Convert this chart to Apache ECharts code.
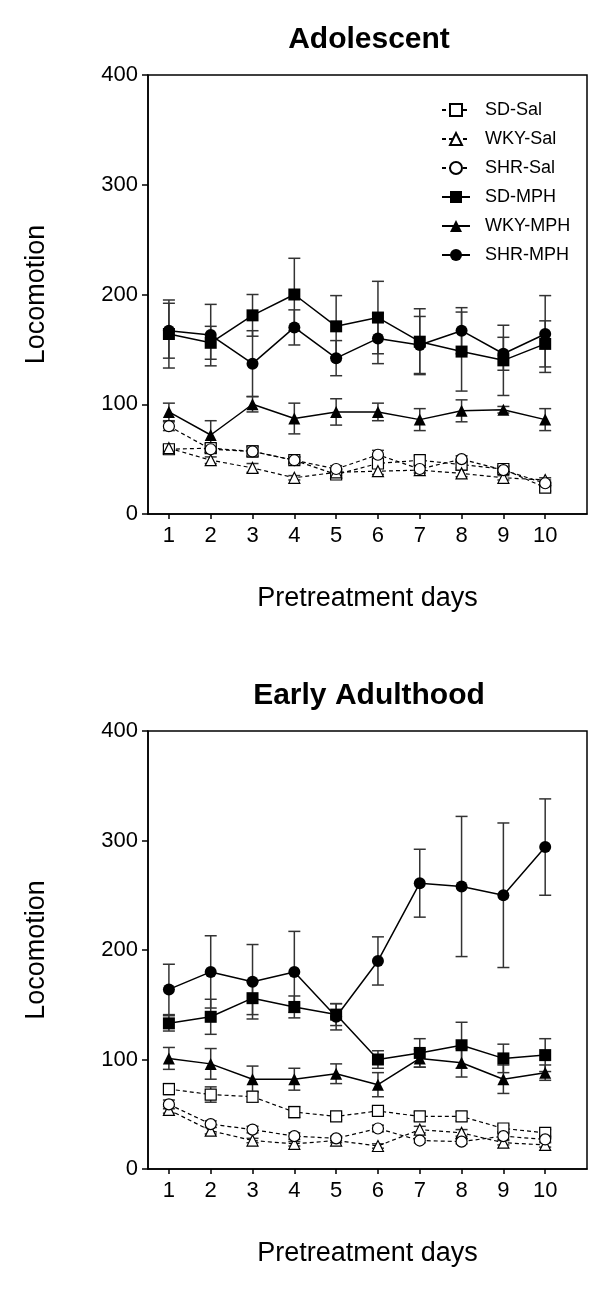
<!DOCTYPE html>
<html>
<head>
<meta charset="utf-8">
<script src="https://cdn.jsdelivr.net/npm/echarts@6/dist/echarts.min.js"></script>
<style>
  html, body { margin: 0; padding: 0; background: #fff; }
  #chart { width: 600px; height: 1291px; }
</style>
</head>
<body>
<div id="chart"></div>
<script>
// x categories (pretreatment day)
const days = [1, 2, 3, 4, 5, 6, 7, 8, 9, 10]
const groupNames = ['SD-Sal', 'WKY-Sal', 'SHR-Sal', 'SD-MPH', 'WKY-MPH', 'SHR-MPH']
const panelTitles = ['Adolescent', 'Early Adulthood']

// Adolescent - means
const adoSDSal = [59, 60, 57, 49, 36, 46, 49, 45, 41, 24]
const adoWKYSal = [60, 49, 42, 33, 38, 39, 40, 37, 33, 31]
const adoSHRSal = [80, 59, 57, 49, 41, 54, 41, 50, 40, 28]
const adoSDMPH = [164, 156, 181, 200, 171, 179, 157, 148, 140, 155]
const adoWKYMPH = [93, 72, 100, 87, 93, 93, 86, 94, 95, 86]
const adoSHRMPH = [167, 163, 137, 170, 142, 160, 154, 167, 146, 164]
// Adolescent - error (SEM)
const adoSDSalErr = [3, 4, 5, 3, 3, 4, 4, 3, 3, 3]
const adoWKYSalErr = [3, 3, 4, 2, 3, 3, 3, 3, 2, 2]
const adoSHRSalErr = [4, 3, 4, 3, 3, 4, 3, 3, 3, 3]
const adoSDMPHErr = [31, 15, 19, 33, 28, 33, 30, 36, 32, 21]
const adoWKYMPHErr = [8, 13, 7, 14, 12, 8, 10, 10, 3, 10]
const adoSHRMPHErr = [25, 28, 30, 16, 16, 23, 26, 21, 15, 35]

// Early adulthood - means
const adultSDSal = [73, 68, 66, 52, 48, 53, 48, 48, 37, 33]
const adultWKYSal = [54, 35, 26, 23, 26, 21, 36, 33, 24, 22]
const adultSHRSal = [59, 41, 36, 30, 28, 37, 26, 25, 30, 27]
const adultSDMPH = [133, 139, 156, 148, 141, 100, 106, 113, 101, 104]
const adultWKYMPH = [101, 96, 82, 82, 87, 77, 101, 97, 82, 88]
const adultSHRMPH = [164, 180, 171, 180, 139, 190, 261, 258, 250, 294]
// Early adulthood - error (SEM)
const adultSDSalErr = [5, 7, 5, 5, 3, 4, 4, 4, 3, 3]
const adultWKYSalErr = [3, 3, 2, 2, 2, 2, 3, 3, 2, 2]
const adultSHRSalErr = [4, 3, 3, 3, 2, 3, 2, 2, 3, 2]
const adultSDMPHErr = [7, 16, 15, 10, 10, 8, 13, 21, 13, 15]
const adultWKYMPHErr = [10, 14, 12, 10, 9, 11, 8, 13, 13, 7]
const adultSHRMPHErr = [23, 33, 34, 37, 12, 22, 31, 64, 66, 44]

const panels = [
  {
    means: [adoSDSal, adoWKYSal, adoSHRSal, adoSDMPH, adoWKYMPH, adoSHRMPH],
    errs: [adoSDSalErr, adoWKYSalErr, adoSHRSalErr, adoSDMPHErr, adoWKYMPHErr, adoSHRMPHErr]
  },
  {
    means: [adultSDSal, adultWKYSal, adultSHRSal, adultSDMPH, adultWKYMPH, adultSHRMPH],
    errs: [adultSDSalErr, adultWKYSalErr, adultSHRSalErr, adultSDMPHErr, adultWKYMPHErr, adultSHRMPHErr]
  }
]

const FONT = 'Liberation Sans, Arial, sans-serif'
const symbolOf = { SD: 'rect', WKY: 'triangle', SHR: 'circle' }

// vertical error bar with caps
function errorRender(params, api) {
  const x = api.value(0)
  const lo = api.coord([x, api.value(1)])
  const hi = api.coord([x, api.value(2)])
  const w = 6
  const style = { stroke: '#333', lineWidth: 1.5 }
  return {
    type: 'group',
    children: [
      { type: 'line', shape: { x1: lo[0], y1: lo[1], x2: hi[0], y2: hi[1] }, style },
      { type: 'line', shape: { x1: hi[0] - w, y1: hi[1], x2: hi[0] + w, y2: hi[1] }, style },
      { type: 'line', shape: { x1: lo[0] - w, y1: lo[1], x2: lo[0] + w, y2: lo[1] }, style }
    ]
  }
}

const series = []
panels.forEach((panel, gi) => {
  groupNames.forEach((name, si) => {
    const mph = name.indexOf('MPH') > -1
    const vals = panel.means[si]
    const errs = panel.errs[si]
    series.push({
      name: name + ' err',
      type: 'custom',
      xAxisIndex: gi,
      yAxisIndex: gi,
      renderItem: errorRender,
      encode: { x: 0, y: [1, 2] },
      z: 1,
      silent: true,
      data: days.map((d, i) => [d, vals[i] - errs[i], vals[i] + errs[i]])
    })
    series.push({
      name: name,
      type: 'line',
      xAxisIndex: gi,
      yAxisIndex: gi,
      symbol: symbolOf[name.split('-')[0]],
      symbolSize: mph ? 12 : 11,
      showAllSymbol: true,
      z: mph ? 4 : 3,
      lineStyle: mph
        ? { color: '#000', width: 1.5, type: 'solid' }
        : { color: '#000', width: 1.2, type: [4, 3] },
      itemStyle: mph
        ? { color: '#000', borderColor: '#000', borderWidth: 0 }
        : { color: '#fff', borderColor: '#000', borderWidth: 1.2 },
      emphasis: { disabled: true },
      data: days.map((d, i) => [d, vals[i]])
    })
  })
})

const grids = [
  { left: 148, right: 13, top: 75, height: 439 },
  { left: 148, right: 13, top: 731, height: 438 }
]

const option = {
  backgroundColor: '#fff',
  animation: false,
  textStyle: { fontFamily: FONT, color: '#000' },
  title: panelTitles.map((t, i) => ({
    text: t,
    left: 364,
    top: i === 0 ? 20 : 676,
    textAlign: 'center',
    textStyle: { fontFamily: FONT, fontSize: 30, fontWeight: 'bold', color: '#000' }
  })),
  legend: {
    data: groupNames,
    orient: 'vertical',
    left: 441,
    top: 101,
    padding: 0,
    itemWidth: 28,
    itemHeight: 15,
    itemGap: 11,
    selectedMode: false,
    textStyle: { fontFamily: FONT, fontSize: 18, color: '#000', padding: [0, 0, 0, 10] }
  },
  grid: grids.map(g => Object.assign({ show: true, borderColor: '#000', borderWidth: 1.5, backgroundColor: 'transparent' }, g)),
  xAxis: grids.map((g, i) => ({
    gridIndex: i,
    type: 'value',
    min: 0.5,
    max: 11,
    name: 'Pretreatment days',
    nameLocation: 'middle',
    nameGap: 71,
    nameTextStyle: { fontFamily: FONT, fontSize: 27, color: '#000' },
    axisLine: { show: true, lineStyle: { color: '#000', width: 1.5 } },
    axisTick: { show: true, length: 5, customValues: days, lineStyle: { color: '#000', width: 1.5 } },
    axisLabel: { customValues: days, fontFamily: FONT, fontSize: 22, color: '#000', margin: 11 },
    splitLine: { show: false }
  })),
  yAxis: grids.map((g, i) => ({
    gridIndex: i,
    type: 'value',
    min: 0,
    max: 400,
    interval: 100,
    name: 'Locomotion',
    nameLocation: 'middle',
    nameRotate: 90,
    nameGap: 98,
    nameTextStyle: { fontFamily: FONT, fontSize: 27, color: '#000' },
    axisLine: { show: true, lineStyle: { color: '#000', width: 1.5 } },
    axisTick: { show: true, length: 6, lineStyle: { color: '#000', width: 1.5 } },
    axisLabel: { fontFamily: FONT, fontSize: 22, color: '#000', margin: 10 },
    splitLine: { show: false }
  })),
  series: series
}

const chart = echarts.init(document.getElementById('chart'))
chart.setOption(option)
</script>
</body>
</html>
